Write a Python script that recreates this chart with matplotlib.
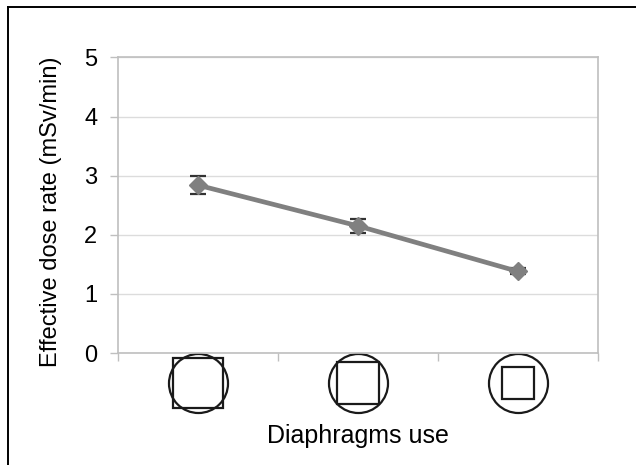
import numpy as np
import matplotlib.pyplot as plt
from matplotlib.lines import Line2D

plt.rcParams['font.family'] = ['Liberation Sans', 'DejaVu Sans']

# diaphragm settings (icons drawn below the axis)
categories = ['full', 'medium', 'small']
dose_rate = [2.84, 2.15, 1.38]
dose_err = [0.15, 0.12, 0.05]
yticks = [0, 1, 2, 3, 4, 5]
square_sizes = [36.7, 30.5, 23.0]   # points, for the icons
circle_size = 42.5

fig = plt.figure(figsize=(6.36, 4.65), dpi=100)
ax = fig.add_axes([118/636, 1-353/465, 480/636, 295.5/465])

x = np.arange(len(categories))
ax.errorbar(x, dose_rate, yerr=dose_err, color='#808080', lw=3.4,
            marker='D', ms=9.5, mfc='#808080', mec='#808080',
            ecolor='#333333', elinewidth=1.2, capsize=6, capthick=1.6, zorder=3)

ax.set_ylim(0, 5)
ax.set_xlim(-0.5, 2.5)
ax.set_yticks(yticks)
ax.set_yticklabels([str(t) for t in yticks], fontsize=17)
ax.set_xticks(np.arange(-0.5, len(categories), 1.0))
ax.set_xticklabels([])
ax.tick_params(axis='both', direction='out', length=5.8, width=1, color='#bfbfbf', pad=9)
ax.grid(axis='y', color='#dcdcdc', lw=1)
ax.set_axisbelow(True)
for s in ax.spines.values():
    s.set_color('#bfbfbf')
    s.set_linewidth(1.2)

# diaphragm icons: circle (field of view) with a square (collimation)
icon_y = -0.5
for xi, sq in zip(x, square_sizes):
    ax.plot([xi], [icon_y], marker='o', ms=circle_size, mfc='none', mec='#1a1a1a',
            mew=1.6, clip_on=False, ls='none')
    ax.plot([xi], [icon_y], marker='s', ms=sq, mfc='none', mec='#1a1a1a',
            mew=1.6, clip_on=False, ls='none')

ax.set_ylabel('Effective dose rate (mSv/min)', fontsize=17)
ax.yaxis.set_label_coords(-0.14, 0.479)
ax.yaxis.label.set_va('center')
ax.set_xlabel('Diaphragms use', fontsize=18)
ax.xaxis.set_label_coords(0.5, -0.281)
ax.xaxis.label.set_va('center')

# frame (top and left edges visible)
fig.add_artist(Line2D([8/636, 8/636], [0, 1-7/465], transform=fig.transFigure, color='black', lw=1.4))
fig.add_artist(Line2D([8/636, 1], [1-7/465, 1-7/465], transform=fig.transFigure, color='black', lw=1.4))

fig.savefig('out.png', dpi=100)
